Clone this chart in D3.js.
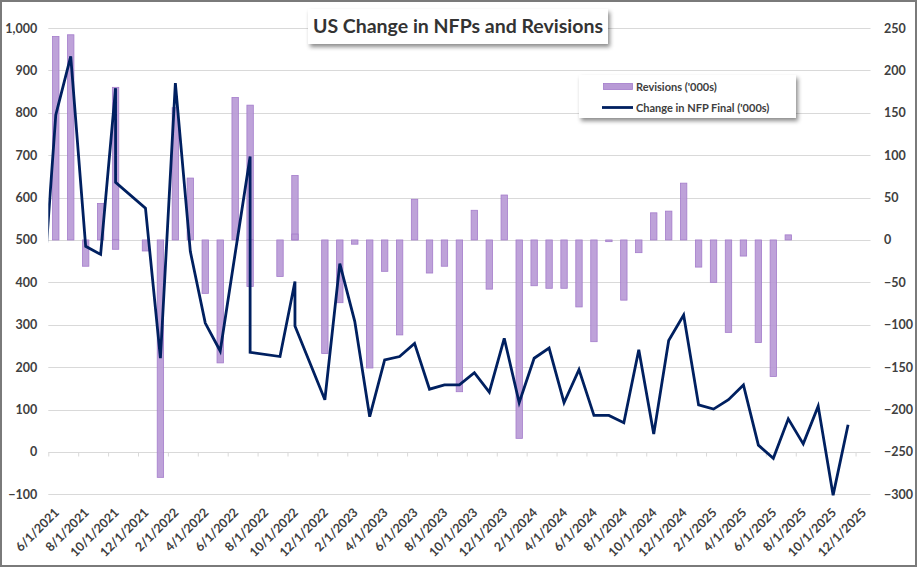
<!DOCTYPE html>
<html>
<head>
<meta charset="utf-8">
<script src="https://cdn.jsdelivr.net/npm/d3@7/dist/d3.min.js"></script>
<style>
  html, body { margin: 0; padding: 0; background: #fff; }
  svg { display: block; }
  text { font-family: Lato, "Open Sans", sans-serif; }
</style>
</head>
<body>
<script>
// ---------- data ----------
const dates = [
  "5/1/2021","6/1/2021","7/1/2021","8/1/2021","9/1/2021","10/1/2021","10/1/2021",
  "12/1/2021","1/1/2022","2/1/2022","3/1/2022","4/1/2022","5/1/2022","6/1/2022",
  "7/1/2022","7/1/2022","9/1/2022","10/1/2022","10/1/2022","12/1/2022",
  "1/1/2023","2/1/2023","3/1/2023","4/1/2023","5/1/2023","6/1/2023","7/1/2023",
  "8/1/2023","9/1/2023","10/1/2023","11/1/2023","12/1/2023","1/1/2024","2/1/2024",
  "3/1/2024","4/1/2024","5/1/2024","6/1/2024","7/1/2024","8/1/2024","9/1/2024",
  "10/1/2024","11/1/2024","12/1/2024","1/1/2025","2/1/2025","3/1/2025","4/1/2025",
  "5/1/2025","6/1/2025","7/1/2025","8/1/2025","9/1/2025","10/1/2025","11/1/2025"
];
// Revisions ('000s) – right axis
const revisions = [
  null,240,242,-31,43,180,-11,
  -13,-280,156,73,-63,-145,168,
  159,-55,-43,76,7,-134,
  -74,-5,-151,-37,-112,48,-39,
  -31,-179,35,-58,53,-234,-54,
  -57,-57,-79,-120,-2,-71,-15,
  32,34,67,-32,-50,-109,-19,
  -121,-161,6,null,null,null,null
];
// Change in NFP Final ('000s) – left axis
const nfpFinal = [
  300,795,933,485,466,858,636,
  575,221,870,473,304,238,468,
  697,235,225,402,297,123,
  444,308,83,217,225,256,148,
  158,158,187,141,268,116,221,
  245,116,194,86,86,69,241,
  42,263,323,111,101,123,158,
  16,-15,78,19,108,-102,64
];
const xTickLabels = [
  "6/1/2021","8/1/2021","10/1/2021","12/1/2021","2/1/2022","4/1/2022","6/1/2022",
  "8/1/2022","10/1/2022","12/1/2022","2/1/2023","4/1/2023","6/1/2023","8/1/2023",
  "10/1/2023","12/1/2023","2/1/2024","4/1/2024","6/1/2024","8/1/2024","10/1/2024",
  "12/1/2024","2/1/2025","4/1/2025","6/1/2025","8/1/2025","10/1/2025","12/1/2025"
];
const leftTicks = [-100,0,100,200,300,400,500,600,700,800,900,1000];
const rightTicks = [-300,-250,-200,-150,-100,-50,0,50,100,150,200,250];
const axisStart = "6/1/2021";
const axisEnd = "1/1/2026";
const titleText = "US Change in NFPs and Revisions";
const legendLabels = ["Revisions ('000s)", "Change in NFP Final ('000s)"];

// ---------- layout ----------
const W = 917, H = 567;
const plot = { left: 48.3, right: 870.5, top: 28, bottom: 494.3 };
const barColor = "#b89ad6", barStroke = "#a47ccb", lineColor = "#002060";
const gridColor = "#d9d9d9", textColor = "#404040";

function monthIndex(s) {
  const [m, , y] = s.split("/").map(Number);
  return (y - 2021) * 12 + (m - 6);
}

const x = d3.scaleLinear()
  .domain([monthIndex(axisStart), monthIndex(axisEnd)])
  .range([plot.left, plot.right]);
const xc = s => x(monthIndex(s) + 0.5);
const yL = d3.scaleLinear().domain([-100, 1000]).range([plot.bottom, plot.top]);
const yR = d3.scaleLinear().domain([-300, 250]).range([plot.bottom, plot.top]);

const svg = d3.select("body").append("svg").attr("width", W).attr("height", H);
const defs = svg.append("defs");
const f = defs.append("filter").attr("id", "shadow")
  .attr("x", "-10%").attr("y", "-30%").attr("width", "125%").attr("height", "180%");
f.append("feDropShadow").attr("dx", 2).attr("dy", 3).attr("stdDeviation", 2)
  .attr("flood-color", "#000").attr("flood-opacity", 0.45);
defs.append("clipPath").attr("id", "plotclip").append("rect")
  .attr("x", plot.left).attr("y", plot.top - 5)
  .attr("width", plot.right - plot.left).attr("height", plot.bottom - plot.top + 10);

svg.append("rect").attr("x", 0).attr("y", 0).attr("width", W).attr("height", H).attr("fill", "#fff");

// gridlines
svg.append("g").selectAll("line").data(leftTicks).join("line")
  .attr("x1", plot.left).attr("x2", plot.right)
  .attr("y1", d => Math.round(yL(d)) + 0.5).attr("y2", d => Math.round(yL(d)) + 0.5)
  .attr("stroke", gridColor).attr("stroke-width", 1);

// x axis tick marks (at yL(0)), every two months at slot boundaries
const xAxis = d3.axisBottom(x)
  .tickValues(xTickLabels.map(monthIndex))
  .tickSize(4).tickFormat("");
const gx = svg.append("g").attr("transform", `translate(0,${Math.round(yL(0)) + 0.5})`).call(xAxis);
gx.select(".domain").remove();
gx.selectAll(".tick line").attr("stroke", gridColor);

// left axis
const gl = svg.append("g").attr("transform", `translate(${plot.left},0)`)
  .call(d3.axisLeft(yL).tickValues(leftTicks).tickSize(0).tickPadding(11).tickFormat(d3.format(",")));
gl.select(".domain").remove();
gl.selectAll("text").attr("fill", textColor).attr("font-size", 12.5).attr("font-weight", 700)
  .style("font-family", "Lato");

// right axis
const gr = svg.append("g").attr("transform", `translate(${plot.right},0)`)
  .call(d3.axisRight(yR).tickValues(rightTicks).tickSize(0).tickPadding(13.5).tickFormat(d3.format("d")));
gr.select(".domain").remove();
gr.selectAll("text").attr("fill", textColor).attr("font-size", 12.5).attr("font-weight", 700)
  .style("font-family", "Lato");

// x labels
svg.append("g").selectAll("text").data(xTickLabels).join("text")
  .attr("transform", d => `translate(${xc(d) + 4},${plot.bottom + 19}) rotate(-45)`)
  .attr("text-anchor", "end")
  .attr("fill", textColor).attr("font-size", 12.5).attr("font-weight", 700)
  .text(d => d);

// bars
const plotG = svg.append("g").attr("clip-path", "url(#plotclip)");
const barW = 6.4;
const barData = dates.map((d, i) => ({ d, v: revisions[i] })).filter(o => o.v !== null);
plotG.append("g").selectAll("rect").data(barData).join("rect")
  .attr("x", o => xc(o.d) - barW / 2)
  .attr("y", o => Math.min(yR(o.v), yR(0)))
  .attr("width", barW)
  .attr("height", o => Math.abs(yR(o.v) - yR(0)))
  .attr("fill", barColor).attr("fill-opacity", 0.92)
  .attr("stroke", barStroke).attr("stroke-width", 0.8);

// line
const lineData = dates.map((d, i) => ({ d, v: nfpFinal[i] }));
plotG.append("path").datum(lineData)
  .attr("d", d3.line().x(o => xc(o.d)).y(o => yL(o.v)))
  .attr("fill", "none").attr("stroke", lineColor).attr("stroke-width", 2.8)
  .attr("stroke-linejoin", "miter").attr("stroke-miterlimit", 4);

// title box
const tg = svg.append("g");
tg.append("rect").attr("x", 308).attr("y", 9).attr("width", 300).attr("height", 35)
  .attr("fill", "#fff").attr("filter", "url(#shadow)");
tg.append("text").attr("x", 458).attr("y", 33).attr("text-anchor", "middle")
  .attr("fill", "#333").attr("font-size", 19.5).attr("font-weight", 700)
  .text(titleText);

// legend
const lg = svg.append("g");
lg.append("rect").attr("x", 579).attr("y", 75).attr("width", 217).attr("height", 43)
  .attr("fill", "#fff").attr("filter", "url(#shadow)");
lg.append("rect").attr("x", 603.5).attr("y", 83.5).attr("width", 29).attr("height", 6)
  .attr("fill", barColor).attr("stroke", barStroke).attr("stroke-width", 0.8);
lg.append("line").attr("x1", 602).attr("x2", 633).attr("y1", 107.5).attr("y2", 107.5)
  .attr("stroke", lineColor).attr("stroke-width", 2.8);
lg.selectAll("text.lt").data(legendLabels).join("text").attr("class", "lt")
  .attr("x", 636).attr("y", (d, i) => 90.5 + i * 21.5)
  .attr("fill", textColor).attr("font-size", 11).attr("font-weight", 700)
  .text(d => d);

// outer border
svg.append("rect").attr("x", 1).attr("y", 1).attr("width", W - 2).attr("height", H - 2)
  .attr("fill", "none").attr("stroke", "#7a7a7a").attr("stroke-width", 2);
</script>
</body>
</html>
